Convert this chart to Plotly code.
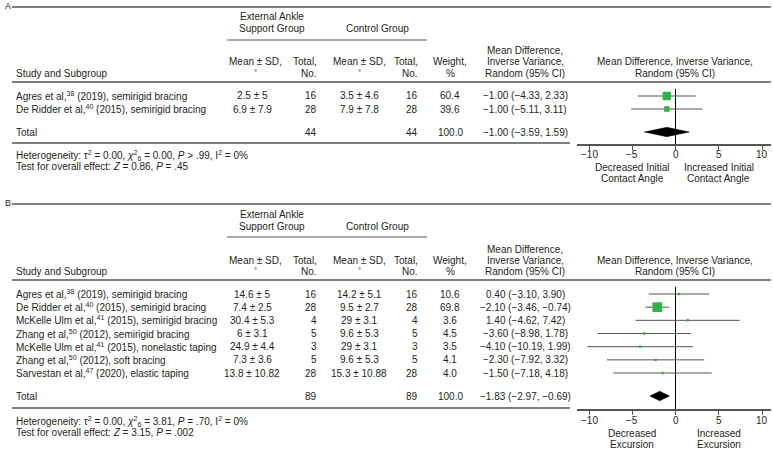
import plotly.graph_objects as go

W, H = 773, 449
FONT = "Liberation Sans, Arial, sans-serif"
TXT = "#231f20"
LINE = "#555555"
GREEN = "#2fb34a"

# ---------------- Panel A data ----------------
A_study = ["Agres et al,<sup>38</sup> (2019), semirigid bracing",
           "De Ridder et al,<sup>40</sup> (2015), semirigid bracing"]
A_eas_msd = ["2.5 ± 5", "6.9 ± 7.9"]
A_eas_n = [16, 28]
A_ctl_msd = ["3.5 ± 4.6", "7.9 ± 7.8"]
A_ctl_n = [16, 28]
A_weight = [60.4, 39.6]
A_md = [-1.00, -1.00]
A_lo = [-4.33, -5.11]
A_hi = [2.33, 3.11]
A_total = [44, 44, 100.0, -1.00, -3.59, 1.59]  # eas n, ctl n, weight, md, lo, hi
A_het = "Heterogeneity: τ<sup>2</sup> = 0.00, <i>χ</i><sup>2</sup><sub>6</sub> = 0.00, <i>P</i> > .99, I<sup>2</sup> = 0%"
A_test = "Test for overall effect: <i>Z</i> = 0.86, <i>P</i> = .45"
A_dir_left = ["Decreased Initial", "Contact Angle"]
A_dir_right = ["Increased Initial", "Contact Angle"]

# ---------------- Panel B data ----------------
B_study = ["Agres et al,<sup>38</sup> (2019), semirigid bracing",
           "De Ridder et al,<sup>40</sup> (2015), semirigid bracing",
           "McKelle Ulm et al,<sup>41</sup> (2015), semirigid bracing",
           "Zhang et al,<sup>50</sup> (2012), semirigid bracing",
           "McKelle Ulm et al,<sup>41</sup> (2015), nonelastic taping",
           "Zhang et al,<sup>50</sup> (2012), soft bracing",
           "Sarvestan et al,<sup>47</sup> (2020), elastic taping"]
B_eas_msd = ["14.6 ± 5", "7.4 ± 2.5", "30.4 ± 5.3", "6 ± 3.1", "24.9 ± 4.4", "7.3 ± 3.6", "13.8 ± 10.82"]
B_eas_n = [16, 28, 4, 5, 3, 5, 28]
B_ctl_msd = ["14.2 ± 5.1", "9.5 ± 2.7", "29 ± 3.1", "9.6 ± 5.3", "29 ± 3.1", "9.6 ± 5.3", "15.3 ± 10.88"]
B_ctl_n = [16, 28, 4, 5, 3, 5, 28]
B_weight = [10.6, 69.8, 3.6, 4.5, 3.5, 4.1, 4.0]
B_md = [0.40, -2.10, 1.40, -3.60, -4.10, -2.30, -1.50]
B_lo = [-3.10, -3.46, -4.62, -8.98, -10.19, -7.92, -7.18]
B_hi = [3.90, -0.74, 7.42, 1.78, 1.99, 3.32, 4.18]
B_total = [89, 89, 100.0, -1.83, -2.97, -0.69]
B_het = "Heterogeneity: τ<sup>2</sup> = 0.00, <i>χ</i><sup>2</sup><sub>6</sub> = 3.81, <i>P</i> = .70, I<sup>2</sup> = 0%"
B_test = "Test for overall effect: <i>Z</i> = 3.15, <i>P</i> = .002"
B_dir_left = ["Decreased", "Excursion"]
B_dir_right = ["Increased", "Excursion"]

tick_vals = [-10, -5, 0, 5, 10]
tick_text = ["−10", "−5", "0", "5", "10"]

# ---------------- helpers ----------------
def px(x):
    return x / W

def py(y):
    return 1 - y / H

def num(v):
    return f"{v:.2f}".replace("-", "−")

def ci(m, l, h):
    return f"{num(m)} ({num(l)}, {num(h)})"

annotations = []
shapes = []

def T(x, y, s, align="center", size=10, xref="paper"):
    annotations.append(dict(
        x=px(x) if xref == "paper" else x, y=py(y), xref=xref, yref="paper",
        text=s, showarrow=False, xanchor=align, yanchor="middle",
        font=dict(family=FONT, size=size, color=TXT)))

def L(x0, x1, y, w=1.5):
    shapes.append(dict(type="line", xref="paper", yref="paper",
                       x0=px(x0), x1=px(x1), y0=py(y), y1=py(y),
                       line=dict(color=LINE, width=w)))

# column x positions (px)
X_STUDY = 14
X_EAS_MSD = 252
X_EAS_MSD_H = 255
X_EAS_N = 319
X_CTL_MSD = 359
X_CTL_N = 420
X_W = 450
X_MD = 525
X_FOREST = 675
F_X0, F_X1 = 577, 771
ZERO_PX, PX_PER_UNIT = 675.5, 8.65

fig = go.Figure()

def panel(k, label, Y, study, eas_msd, eas_n, ctl_msd, ctl_n, weight, md, lo, hi, total, het, test, dl, dr):
    n = len(study)
    T(3, Y["label"], label, align="left", size=9)
    L(12, 771, Y["top"])
    T(272, Y["g1"], "External Ankle")
    T(272, Y["g2"], "Support Group")
    T(377, Y["g2"], "Control Group")
    L(227, 427, Y["under"], 1.2)
    T(X_EAS_MSD_H, Y["h2"], "Mean ± SD,")
    T(X_EAS_MSD_H, Y["h3"] - 1, "°", size=8)
    T(X_EAS_N, Y["h2"], "Total,", align="right")
    T(X_EAS_N, Y["h3"], "No.", align="right")
    T(X_CTL_MSD, Y["h2"], "Mean ± SD,")
    T(X_CTL_MSD, Y["h3"] - 1, "°", size=8)
    T(X_CTL_N, Y["h2"], "Total,", align="right")
    T(X_CTL_N, Y["h3"], "No.", align="right")
    T(X_W, Y["h2"], "Weight,")
    T(X_W, Y["h3"], "%")
    T(X_MD, Y["h1"], "Mean Difference,")
    T(X_MD, Y["h2"], "Inverse Variance,")
    T(X_MD, Y["h3"], "Random (95% CI)")
    T(X_FOREST, Y["h2"], "Mean Difference, Inverse Variance,")
    T(X_FOREST, Y["h3"], "Random (95% CI)")
    T(X_STUDY, Y["h3"], "Study and Subgroup", align="left")
    L(12, 771, Y["hline"])
    for i in range(n):
        yy = Y["row0"] + Y["pitch"] * i
        T(X_STUDY, yy, study[i], align="left")
        T(X_EAS_MSD, yy, eas_msd[i])
        T(X_EAS_N, yy, str(eas_n[i]), align="right")
        T(X_CTL_MSD, yy, ctl_msd[i])
        T(X_CTL_N, yy, str(ctl_n[i]), align="right")
        T(X_W, yy, f"{weight[i]:.1f}")
        T(X_MD, yy, ci(md[i], lo[i], hi[i]))
    yt = Y["total"]
    T(X_STUDY, yt, "Total", align="left")
    T(X_EAS_N, yt, str(total[0]), align="right")
    T(X_CTL_N, yt, str(total[1]), align="right")
    T(X_W, yt, f"{total[2]:.1f}")
    T(X_MD, yt, ci(total[3], total[4], total[5]))
    L(12, 570, Y["bottom"])
    T(X_STUDY, Y["het"], het, align="left")
    T(X_STUDY, Y["test"], test, align="left")
    xa = "x" if k == 1 else f"x{k}"
    ya = "y" if k == 1 else f"y{k}"
    # tick labels placed just under the axis line
    for v, s in zip(tick_vals, tick_text):
        T(v, Y["ticklab"], s, xref=xa)
    T(-5, Y["dir1"], dl[0], xref=xa)
    T(-5, Y["dir2"], dl[1], xref=xa)
    T(5, Y["dir1"], dr[0], xref=xa)
    T(5, Y["dir2"], dr[1], xref=xa)

    # forest marks (data coordinates: x = effect, y = row index)
    cx, cy = [], []
    for i in range(n):
        cx += [lo[i], hi[i], None]
        cy += [i, i, None]
    fig.add_trace(go.Scatter(x=cx, y=cy, mode="lines", xaxis=xa, yaxis=ya,
                             line=dict(color=LINE, width=1), hoverinfo="skip", showlegend=False))
    fig.add_trace(go.Scatter(x=md, y=list(range(n)), mode="markers", xaxis=xa, yaxis=ya,
                             marker=dict(symbol="square", color=GREEN, opacity=1,
                                         size=[max(2.5, 0.14 * w) for w in weight], line=dict(width=0)),
                             showlegend=False))
    t_row = (Y["total"] - Y["row0"]) / Y["pitch"]
    hh = 0.36
    fig.add_trace(go.Scatter(x=[total[4], total[3], total[5], total[3], total[4]],
                             y=[t_row, t_row - hh, t_row, t_row + hh, t_row],
                             mode="lines", fill="toself", fillcolor="black",
                             line=dict(color="black", width=0.5), xaxis=xa, yaxis=ya,
                             showlegend=False))
    axis_x = dict(domain=[px(F_X0), px(F_X1)],
                  range=[(F_X0 - ZERO_PX) / PX_PER_UNIT, (F_X1 - ZERO_PX) / PX_PER_UNIT],
                  anchor=ya, showline=True, linecolor=LINE, linewidth=1.5,
                  ticks="outside", ticklen=4, tickcolor=LINE, tickwidth=1,
                  tickvals=tick_vals, showticklabels=False,
                  zeroline=True, zerolinecolor="black", zerolinewidth=1,
                  showgrid=False, fixedrange=True)
    axis_y = dict(domain=[py(Y["bottom"] + 1), py(Y["hline"] + 7)],
                  range=[(Y["bottom"] + 1 - Y["row0"]) / Y["pitch"], (Y["hline"] + 7 - Y["row0"]) / Y["pitch"]],
                  anchor=xa, visible=False, showgrid=False, zeroline=False, fixedrange=True)
    fig.update_layout(**{("xaxis" if k == 1 else f"xaxis{k}"): axis_x,
                         ("yaxis" if k == 1 else f"yaxis{k}"): axis_y})

YA = dict(label=6, top=7, g1=16, g2=28, under=40, h1=51, h2=62, h3=73, hline=82,
          row0=96, pitch=13.0, total=132, bottom=143, het=155, test=166,
          ticklab=154, dir1=167, dir2=178)
YB = dict(label=203, top=204, g1=214, g2=226, under=237, h1=249, h2=260, h3=271, hline=280,
          row0=294, pitch=13.17, total=396, bottom=408, het=421, test=432,
          ticklab=420, dir1=433, dir2=444)

panel(1, "A", YA, A_study, A_eas_msd, A_eas_n, A_ctl_msd, A_ctl_n, A_weight, A_md, A_lo, A_hi,
      A_total, A_het, A_test, A_dir_left, A_dir_right)
panel(2, "B", YB, B_study, B_eas_msd, B_eas_n, B_ctl_msd, B_ctl_n, B_weight, B_md, B_lo, B_hi,
      B_total, B_het, B_test, B_dir_left, B_dir_right)

fig.update_layout(width=W, height=H, margin=dict(l=0, r=0, t=0, b=0),
                  paper_bgcolor="white", plot_bgcolor="white",
                  annotations=annotations, shapes=shapes, showlegend=False,
                  font=dict(family=FONT, size=10, color=TXT))

fig.write_html("out.html", config={"displayModeBar": False},
               post_script="document.body.style.margin='0';document.body.style.overflow='hidden';")
